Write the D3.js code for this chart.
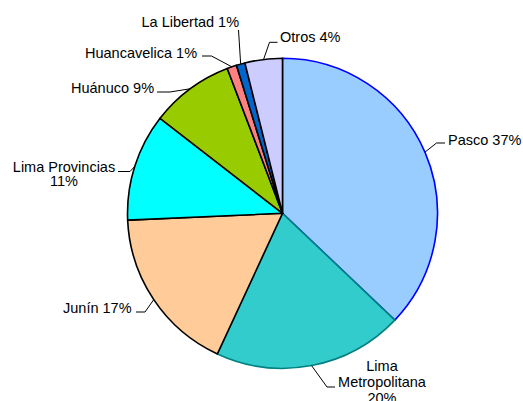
<!DOCTYPE html>
<html>
<head>
<meta charset="utf-8">
<script src="https://cdn.jsdelivr.net/npm/d3@7"></script>
<style>
  html, body { margin: 0; padding: 0; background: #fff; }
  svg { display: block; }
  text { font-family: "Liberation Sans", Arial, sans-serif; font-size: 14.5px; fill: #000; }
</style>
</head>
<body>
<svg id="chart" width="523" height="401"></svg>
<script>
// ---- data ----
const categories = ["Pasco", "Lima Metropolitana", "Junín", "Lima Provincias", "Huánuco", "Huancavelica", "La Libertad", "Otros"];
const values = [37.1, 19.8, 17.4, 11.2, 8.7, 1.0, 0.9, 3.9];
const percentLabels = ["37%", "20%", "17%", "11%", "9%", "1%", "1%", "4%"];

// ---- styling ----
const fills = ["#99CCFF", "#33CCCC", "#FFCC99", "#00FFFF", "#99CC00", "#FF8080", "#0066CC", "#CCCCFF"];
const strokes = ["#0000FF", "#008080", "#000", "#000", "#000", "#000", "#000", "#000"];

// label layout: text lines, anchor point, elbow points for the leader
const labelLayout = [
  { lines: ["Pasco 37%"], x: 448, y: 145, anchor: "start", leader: [[436.5, 143], [445, 143]] },
  { lines: ["Lima", "Metropolitana", "20%"], x: 382, y: 370.5, dy: 16, anchor: "middle", leader: [[327, 387], [335, 387]] },
  { lines: ["Junín 17%"], x: 63, y: 313, anchor: "start", leader: [[145, 312], [136, 312]] },
  { lines: ["Lima Provincias", "11%"], x: 64, y: 171.5, dy: 14.5, anchor: "middle", leader: [[130, 171.5], [118, 171.5]] },
  { lines: ["Huánuco 9%"], x: 71, y: 92.5, anchor: "start", leader: [[170, 92], [157, 92]] },
  { lines: ["Huancavelica 1%"], x: 85, y: 57.5, anchor: "start", leader: [[211.5, 56], [202, 56]] },
  { lines: ["La Libertad 1%"], x: 141.5, y: 26.5, anchor: "start", leader: [[238.5, 30]] },
  { lines: ["Otros 4%"], x: 280, y: 41.5, anchor: "start", leader: [[269.5, 42.3], [277.5, 42.3]] }
];

const svg = d3.select("#chart");
const cx = 282.5, cy = 213.3, r = 155;
const g = svg.append("g").attr("transform", `translate(${cx},${cy})`);

const data = categories.map((c, i) => ({ cat: c, value: values[i], i }));
const pie = d3.pie().value(d => d.value).sort(null);
const arc = d3.arc().innerRadius(0).outerRadius(r);
const arcs = pie(data);

g.selectAll("path.slice")
  .data(arcs)
  .join("path")
  .attr("class", "slice")
  .attr("d", arc)
  .attr("fill", d => fills[d.data.i])
  .attr("stroke", d => strokes[d.data.i])
  .attr("stroke-width", 1.6)
  .attr("stroke-linejoin", "round");

// leaders + labels
const lab = svg.append("g");
arcs.forEach((a, i) => {
  const L = labelLayout[i];
  const mid = (a.startAngle + a.endAngle) / 2;
  const p0 = [cx + r * Math.sin(mid), cy - r * Math.cos(mid)];
  const pts = [p0, ...L.leader];
  lab.append("path")
    .attr("d", d3.line()(pts))
    .attr("fill", "none")
    .attr("stroke", "#000")
    .attr("stroke-width", 1);
  const t = lab.append("text")
    .attr("x", L.x)
    .attr("y", L.y)
    .attr("text-anchor", L.anchor);
  L.lines.forEach((ln, k) => {
    t.append("tspan").attr("x", L.x).attr("y", L.y + k * (L.dy || 0)).text(ln);
  });
});
</script>
</body>
</html>
